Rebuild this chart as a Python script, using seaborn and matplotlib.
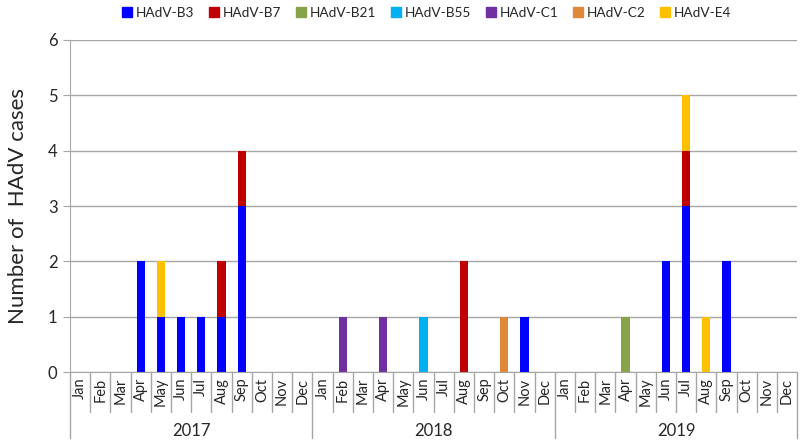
import numpy as np
import pandas as pd
import matplotlib
matplotlib.use("Agg")
import matplotlib.pyplot as plt
import seaborn as sns
from matplotlib.lines import Line2D

months = ["Jan", "Feb", "Mar", "Apr", "May", "Jun", "Jul", "Aug", "Sep", "Oct", "Nov", "Dec"]
years = ["2017", "2018", "2019"]
types = ["HAdV-B3", "HAdV-B7", "HAdV-B21", "HAdV-B55", "HAdV-C1", "HAdV-C2", "HAdV-E4"]
colors = ["#0000FF", "#C00000", "#86A34A", "#00B0F0", "#7030A0", "#E0883A", "#FFC000"]

# (month index 0..35, count) for each type
b3 = [(3, 2), (4, 1), (5, 1), (6, 1), (7, 1), (8, 3), (22, 1), (29, 2), (30, 3), (32, 2)]
b7 = [(7, 1), (8, 1), (19, 2), (30, 1)]
b21 = [(27, 1)]
b55 = [(17, 1)]
c1 = [(13, 1), (15, 1)]
c2 = [(21, 1)]
e4 = [(4, 1), (30, 1), (31, 1)]

rows = []
for name, pts in zip(types, [b3, b7, b21, b55, c1, c2, e4]):
    for m, n in pts:
        rows.append({"month": m, "cases": n, "type": name})
df = pd.DataFrame(rows)

sns.set_style("white")
plt.rcParams["font.family"] = ["Lato", "DejaVu Sans"]

fig = plt.figure(figsize=(8, 4.44), dpi=100)
ax = fig.add_axes([0.0875, 0.162, 0.909, 0.748])

palette = dict(zip(types, colors))
# seaborn stacks the last hue level at the bottom, so reverse the order
sns.histplot(data=df, x="month", weights="cases", hue="type",
             hue_order=types[::-1], palette=palette, multiple="stack",
             discrete=True, shrink=0.4, alpha=1, linewidth=0, legend=False, ax=ax)

ax.set_xlim(-0.5, 35.5)
ax.set_ylim(0, 6)
ax.set_yticks(range(7))
ax.yaxis.grid(True, color="#A6A6A6", linewidth=1)
ax.set_axisbelow(True)
ax.tick_params(axis="y", length=5, color="#A6A6A6", labelsize=12, pad=4, left=True)
ax.set_ylabel("Number of  HAdV cases", fontsize=16, labelpad=14)
ax.set_xlabel("")

ax.set_xticks(range(36))
ax.set_xticklabels(months * 3, rotation=90, fontsize=10.5)
ax.tick_params(axis="x", length=0, pad=4)

for s in ["top", "right"]:
    ax.spines[s].set_visible(False)
ax.spines["bottom"].set_color("#A6A6A6")
ax.spines["left"].set_color("#A6A6A6")
ax.spines["left"].set_bounds(0, 6)

trans = ax.get_xaxis_transform()
for i in range(37):
    bottom = -0.2 if i % 12 == 0 else -0.12
    ax.plot([i - 0.5, i - 0.5], [0, bottom], transform=trans, color="#A6A6A6",
            linewidth=1, clip_on=False)
for k, yr in enumerate(years):
    ax.text(12 * k + 5.5, -0.178, yr, transform=trans, ha="center", va="center", fontsize=12)

handles = [Line2D([], [], marker="s", linestyle="", color=c, markersize=6.5) for c in colors]
fig.legend(handles, types, loc="upper center", bbox_to_anchor=(0.534, 1.012), ncol=7,
           frameon=False, fontsize=9.8, handlelength=0.6, handletextpad=0.35,
           columnspacing=1.15)

fig.savefig("out.png", dpi=100)
